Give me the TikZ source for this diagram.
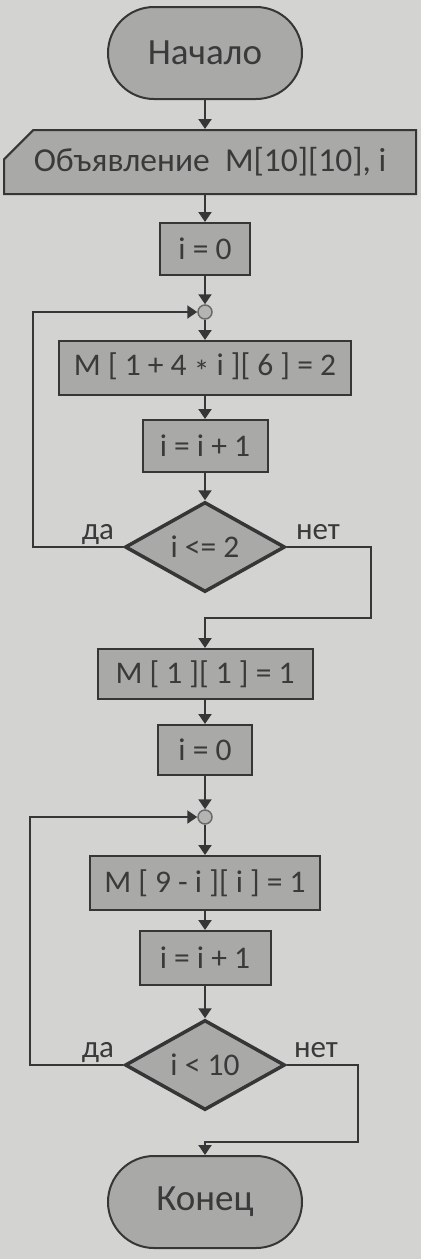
\documentclass[tikz,border=0pt]{standalone}
\usepackage{fontspec}
\setmainfont{Carlito}
\usetikzlibrary{arrows.meta,shapes.geometric,shapes.misc}
\definecolor{paper}{HTML}{D3D3D1}
\definecolor{boxfill}{HTML}{A9A9A7}
\definecolor{ink}{HTML}{363636}
\definecolor{txt}{HTML}{3A3A3A}
\definecolor{joinfill}{HTML}{B4B4B2}
\definecolor{joinline}{HTML}{6A6A6A}
\begin{document}
\begin{tikzpicture}[x=1pt,y=-1pt,
  base/.style={draw=ink, fill=boxfill, text=txt, inner sep=0pt,
               font=\fontsize{31.5}{38}\selectfont},
  proc/.style={base, rectangle, line width=2pt, minimum height=52pt},
  term/.style={base, rectangle, line width=2pt, rounded corners=46pt,
               minimum width=194pt, minimum height=92pt,
               font=\fontsize{37}{44}\selectfont},
  decl/.style={base, chamfered rectangle, chamfered rectangle corners=north west,
               chamfered rectangle sep=15pt, line width=2pt,
               minimum width=412pt, minimum height=64pt,
               font=\fontsize{33.5}{40}\selectfont},
  dec/.style={base, diamond, aspect=1.78, line width=3.5pt,
              minimum width=160pt, minimum height=90pt},
  joint/.style={circle, draw=joinline, fill=joinfill, line width=1.5pt,
                minimum size=14pt, inner sep=0pt},
  conn/.style={draw=ink, line width=2pt},
  arr/.style={conn, -{Triangle[width=13pt,length=10pt]}},
  lab/.style={text=txt, font=\fontsize{31}{37}\selectfont, anchor=base}]

% paper
\fill[paper] (0,0) rectangle (421,1259);
\useasboundingbox (0,0) rectangle (421,1259);

% blocks of the first loop
\node[term] (start) at (205,53) {Начало};
\node[decl] (dcl) at (210,162) {Объявление\ \ M[10][10], i};
\node[proc, minimum width=90pt] (ia) at (205,249) {i = 0};
\node[joint] (ca) at (205,312) {};
\node[proc, minimum width=292pt, minimum height=54pt] (ma) at (205,368)
  {M [ 1 + 4 \raisebox{-0.22em}{*} i ][ 6 ] = 2};
\node[proc, minimum width=125pt] (pa) at (205,446) {i = i + 1};
\node[dec] (da) at (205,547) {i <= 2};

% blocks of the second loop
\node[proc, minimum width=215pt, minimum height=50pt] (mb) at (205,674) {M [ 1 ][ 1 ] = 1};
\node[proc, minimum width=94pt, minimum height=50pt] (ib) at (205,750) {i = 0};
\node[joint] (cb) at (205,817) {};
\node[proc, minimum width=230pt, minimum height=54pt] (mc) at (205,883) {M [ 9 - i ][ i ] = 1};
\node[proc, minimum width=131pt, minimum height=54pt] (pb) at (205,958) {i = i + 1};
\node[dec] (db) at (205,1065) {i < 10};
\node[term] (stop) at (205,1202) {Конец};

% bends of the loop and exit lines
\coordinate (la) at (33,0);
\coordinate (ra) at (371,618);
\coordinate (lb) at (30,0);
\coordinate (rb) at (358,1142);

% branch labels
\node[lab] (yesa) at (98,539) {да};
\node[lab] (noa)  at (318,539) {нет};
\node[lab] (yesb) at (98,1057) {да};
\node[lab] (nob)  at (316,1057) {нет};

% straight flow
\draw[arr] (start) -- (start |- dcl.north);
\draw[arr] (ia |- dcl.south) -- (ia);
\draw[arr] (ia) -- (ca);
\draw[arr] (ca) -- (ma);
\draw[arr] (ma) -- (pa);
\draw[arr] (pa) -- (da);
\draw[arr] (mb) -- (ib);
\draw[arr] (ib) -- (cb);
\draw[arr] (cb) -- (mc);
\draw[arr] (mc) -- (pb);
\draw[arr] (pb) -- (db);

% loop back and exit of the first loop
\draw[arr] (da.west) -- (da.west -| la) -- (la |- ca) -- (ca);
\draw[arr] (da.east) -- (da.east -| ra) -- (ra) -- (ra -| mb) -- (mb);

% loop back and exit of the second loop
\draw[arr] (db.west) -- (db.west -| lb) -- (lb |- cb) -- (cb);
\draw[arr] (db.east) -- (db.east -| rb) -- (rb) -- (rb -| stop) -- (stop);
\end{tikzpicture}
\end{document}
